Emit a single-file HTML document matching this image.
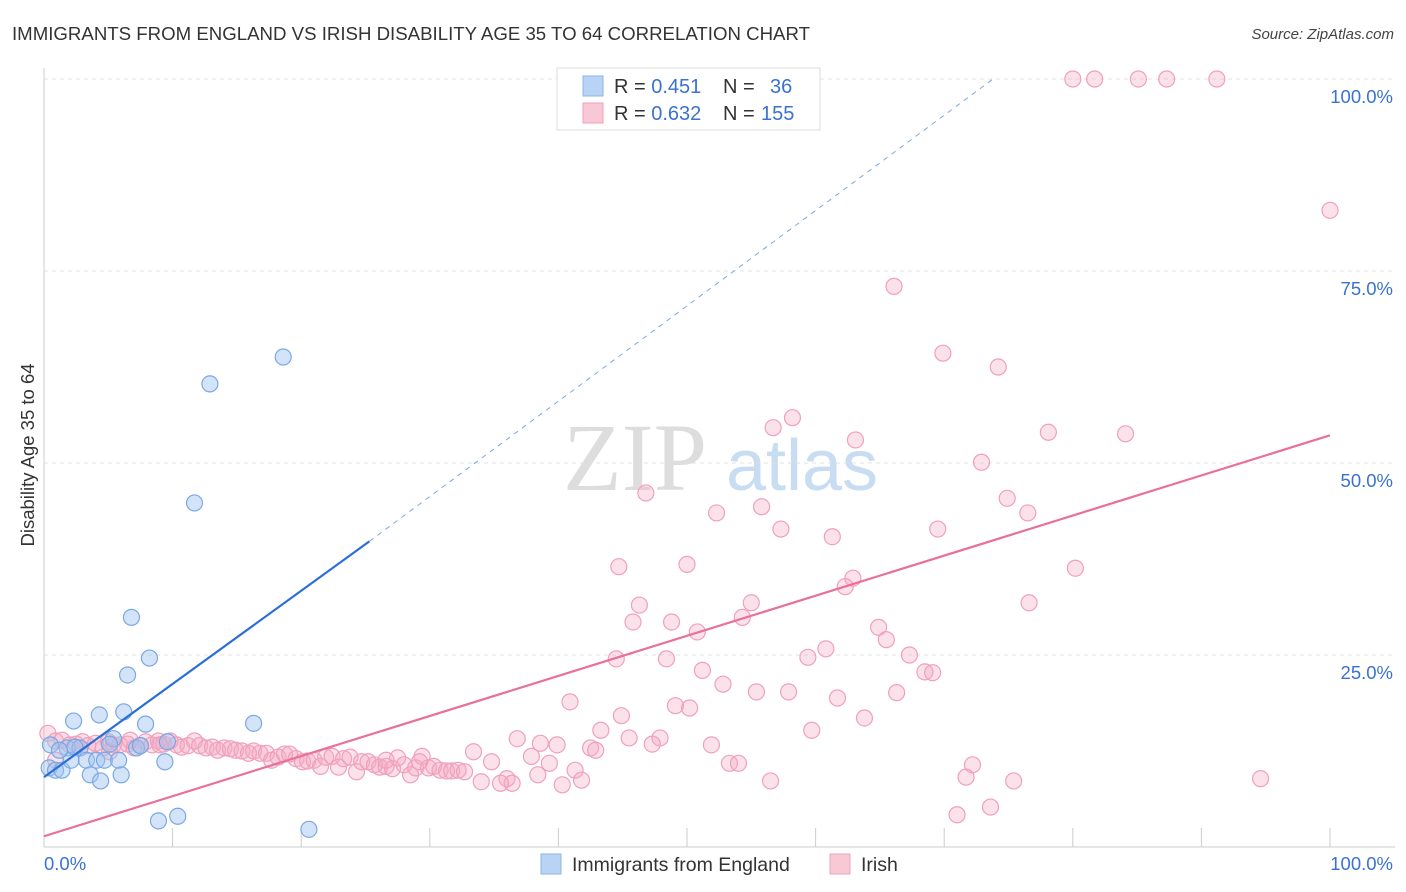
<!DOCTYPE html>
<html><head><meta charset="utf-8"><style>
body{margin:0;background:#fff;font-family:"Liberation Sans",sans-serif;}
svg{display:block}
</style></head><body>
<svg id="chart" width="1406" height="892">
<text x="12" y="40" font-size="18" fill="#333" textLength="798" lengthAdjust="spacingAndGlyphs">IMMIGRANTS FROM ENGLAND VS IRISH DISABILITY AGE 35 TO 64 CORRELATION CHART</text>
<text x="1394" y="39" font-size="15" fill="#444" font-style="italic" text-anchor="end">Source: ZipAtlas.com</text>
<text x="34" y="455" font-size="18.5" fill="#333" text-anchor="middle" transform="rotate(-90 34 455)">Disability Age 35 to 64</text>
<g>
<text x="635" y="490" font-size="96" font-family="Liberation Serif,serif" fill="#ddd" text-anchor="middle">ZIP</text>
<text x="802" y="490" font-size="72" fill="#c8dcf2" text-anchor="middle">atlas</text>
</g>
<g id="grid"></g>
<g id="marks"></g>
<g>
<rect x="557" y="68" width="263" height="62" fill="#fff" stroke="#ddd"/>
<rect x="583" y="76" width="20" height="20" fill="#b9d3f5" stroke="#8ab4e8"/>
<rect x="583" y="103" width="20" height="20" fill="#f8c8d6" stroke="#f0a0bc"/>
<text x="614" y="93" font-size="20" fill="#333">R = <tspan fill="#3a72d0">0.451</tspan><tspan x="723">N =</tspan><tspan x="770" fill="#3a72d0">36</tspan></text>
<text x="614" y="120" font-size="20" fill="#333">R = <tspan fill="#3a72d0">0.632</tspan><tspan x="723">N =</tspan><tspan x="761" fill="#3a72d0">155</tspan></text>
</g>
<g>
<rect x="541" y="854" width="20" height="20" fill="#b9d3f5" stroke="#8ab4e8"/>
<text x="572" y="871" font-size="19.5" fill="#333">Immigrants from England</text>
<rect x="830" y="854" width="20" height="20" fill="#f8c8d6" stroke="#f0a0bc"/>
<text x="861" y="871" font-size="19.5" fill="#333">Irish</text>
</g>
</svg>
<script>
const yTicks=[25,50,75,100];
const yTickLabels=["25.0%","50.0%","75.0%","100.0%"];
const xEndLabels=["0.0%","100.0%"];
const blueX=[0.4,0.9,1.4,0.5,1.8,2.3,2.1,2.8,3.3,3.6,4.1,4.3,4.4,4.7,5.4,5.8,6.0,6.2,6.5,6.8,7.2,7.9,8.2,8.9,9.4,9.6,10.4,11.7,12.9,16.3,18.6,20.6,5.1,1.2,2.4,7.5];
const blueY=[10.3,10.0,10.0,13.3,12.9,16.4,11.3,12.9,11.3,9.4,11.3,17.2,8.6,11.3,14.1,11.3,9.4,17.6,22.4,29.9,12.9,16.0,24.6,3.4,11.1,13.7,4.0,44.8,60.3,16.1,63.8,2.3,13.4,12.6,13.0,13.2];
const pinkX=[80.0,81.7,85.1,87.3,91.2,100,66.1,69.9,74.2,58.2,56.7,63.1,78.1,84.1,72.9,46.8,74.9,55.8,52.3,76.5,57.3,69.5,61.3,44.7,50.0,80.2,62.9,62.3,46.3,55.0,76.6,54.3,45.8,48.8,50.8,64.9,65.5,60.8,59.4,44.5,48.4,67.3,51.2,68.5,69.1,52.8,55.4,57.9,61.7,66.3,40.9,49.1,50.2,63.8,44.9,43.3,59.7,36.8,45.5,47.9,47.3,51.9,38.6,39.9,42.5,42.9,33.4,34.8,37.9,39.3,53.3,54.0,72.2,71.7,41.3,38.4,36.0,36.4,35.5,34.0,40.3,41.8,56.5,75.4,94.6,73.6,71.0,
0.3,0.9,1.4,2.0,2.5,3.0,3.4,4.0,4.6,5.0,5.4,5.9,6.5,7.0,7.5,7.9,8.4,8.9,9.3,9.8,10.3,10.7,11.2,11.7,12.1,12.6,13.1,13.5,14.0,14.5,14.9,15.4,15.9,16.3,16.8,17.3,17.7,18.2,18.7,19.1,19.6,20.1,20.5,21.0,21.5,21.9,22.4,22.9,23.3,23.8,24.3,24.7,25.2,25.7,26.1,26.6,27.1,27.5,28.0,28.5,28.9,29.4,29.9,30.3,30.8,31.3,31.7,32.2,32.7,29.2,26.6,0.9,5.1,6.7,9.0];
const pinkY=[100,100,100,100,100,82.9,73.0,64.3,62.5,55.9,54.6,53.0,54.0,53.8,50.1,46.1,45.4,44.3,43.5,43.5,41.4,41.4,40.4,36.5,36.8,36.3,35.0,33.9,31.5,31.8,31.8,29.9,29.3,29.3,28.0,28.6,27.0,25.8,24.7,24.5,24.5,25.0,23.0,22.8,22.7,21.2,20.2,20.2,19.4,20.1,18.9,18.4,18.1,16.8,17.1,15.2,15.2,14.1,14.2,14.2,13.4,13.3,13.5,13.3,12.9,12.6,12.4,11.1,11.8,10.9,10.9,10.9,10.7,9.1,10.0,9.4,8.9,8.3,8.3,8.5,8.1,8.7,8.6,8.6,8.9,5.2,4.2,
14.8,13.8,13.9,13.3,13.4,13.7,13.2,13.5,12.9,13.7,13.3,13.3,13.4,12.9,13.2,13.7,13.3,13.8,13.4,13.8,13.3,13.0,13.2,13.8,13.2,12.9,13.0,12.6,12.9,12.8,12.6,12.5,12.2,12.5,12.2,12.2,11.3,11.7,12.1,12.1,11.5,11.1,11.2,11.3,10.5,11.7,11.8,10.4,11.5,11.7,9.8,11.1,11.1,10.7,10.4,10.5,10.2,11.6,10.7,9.4,10.3,11.8,10.3,10.5,10.0,9.9,9.9,10.0,9.8,11.1,11.3,11.3,12.4,13.9,13.3];
const blueLine=[[0,9.1],[25.3,39.8]];
const blueDash=[[25.3,39.8],[73.8,100]];
const pinkLine=[[0,1.4],[100,53.6]];

const NS="http://www.w3.org/2000/svg";
const X0=44,X1=1330,Y0=847,Y1=79;
const sx=v=>X0+(X1-X0)*v/100;
const sy=v=>Y0-(Y0-Y1)*v/100;
function mk(tag,attrs,parent){const e=document.createElementNS(NS,tag);for(const k in attrs)e.setAttribute(k,attrs[k]);parent.appendChild(e);return e;}
const grid=document.getElementById('grid'),marks=document.getElementById('marks');
yTicks.forEach((t,i)=>{
 const l=mk('line',{x1:X0,x2:1395,y1:sy(t),y2:sy(t),stroke:'#e0e0e0','stroke-dasharray':'4,4'},grid);
 
 
 const tx=mk('text',{x:1393,y:sy(t)+24,'font-size':18.5,fill:'#3a72d0','text-anchor':'end'},grid);
 tx.textContent=yTickLabels[i];
 
 
});
const ax=mk('line',{x1:X0,x2:X0,y1:68,y2:Y0,stroke:'#ccc'},grid);


const bx=mk('line',{x1:X0,x2:1395,y1:Y0,y2:Y0,stroke:'#ccc'},grid);


for(let i=1;i<=10;i++){
 const t=mk('line',{x1:sx(i*10),x2:sx(i*10),y1:828,y2:Y0,stroke:'#ccc'},grid);
 
 
}
[[0,'start',44],[100,'end',1393]].forEach((d,i)=>{
 const t=mk('text',{x:d[2],y:870,'font-size':18.5,fill:'#3a72d0','text-anchor':d[1]},grid);
 t.textContent=xEndLabels[i];
 
 
});
pinkX.forEach((x,i)=>{
 const c=mk('circle',{cx:sx(x),cy:sy(pinkY[i]),r:8,fill:'rgba(244,170,195,0.35)',stroke:'#f0a0bc','stroke-width':1.2},marks);
 
 
});
blueX.forEach((x,i)=>{
 const c=mk('circle',{cx:sx(x),cy:sy(blueY[i]),r:8,fill:'rgba(160,196,240,0.45)',stroke:'#7aa8e4','stroke-width':1.2},marks);
 
 
});
const bl=mk('line',{x1:sx(blueLine[0][0]),y1:sy(blueLine[0][1]),x2:sx(blueLine[1][0]),y2:sy(blueLine[1][1]),stroke:'#2a6fd6','stroke-width':2.2},marks);


const bd=mk('line',{x1:sx(blueDash[0][0]),y1:sy(blueDash[0][1]),x2:sx(blueDash[1][0]),y2:sy(blueDash[1][1]),stroke:'#7aa8e4','stroke-width':1,'stroke-dasharray':'5,5'},marks);


const pl=mk('line',{x1:sx(pinkLine[0][0]),y1:sy(pinkLine[0][1]),x2:sx(pinkLine[1][0]),y2:sy(pinkLine[1][1]),stroke:'#e8709a','stroke-width':2.2},marks);


</script>
</body></html>
